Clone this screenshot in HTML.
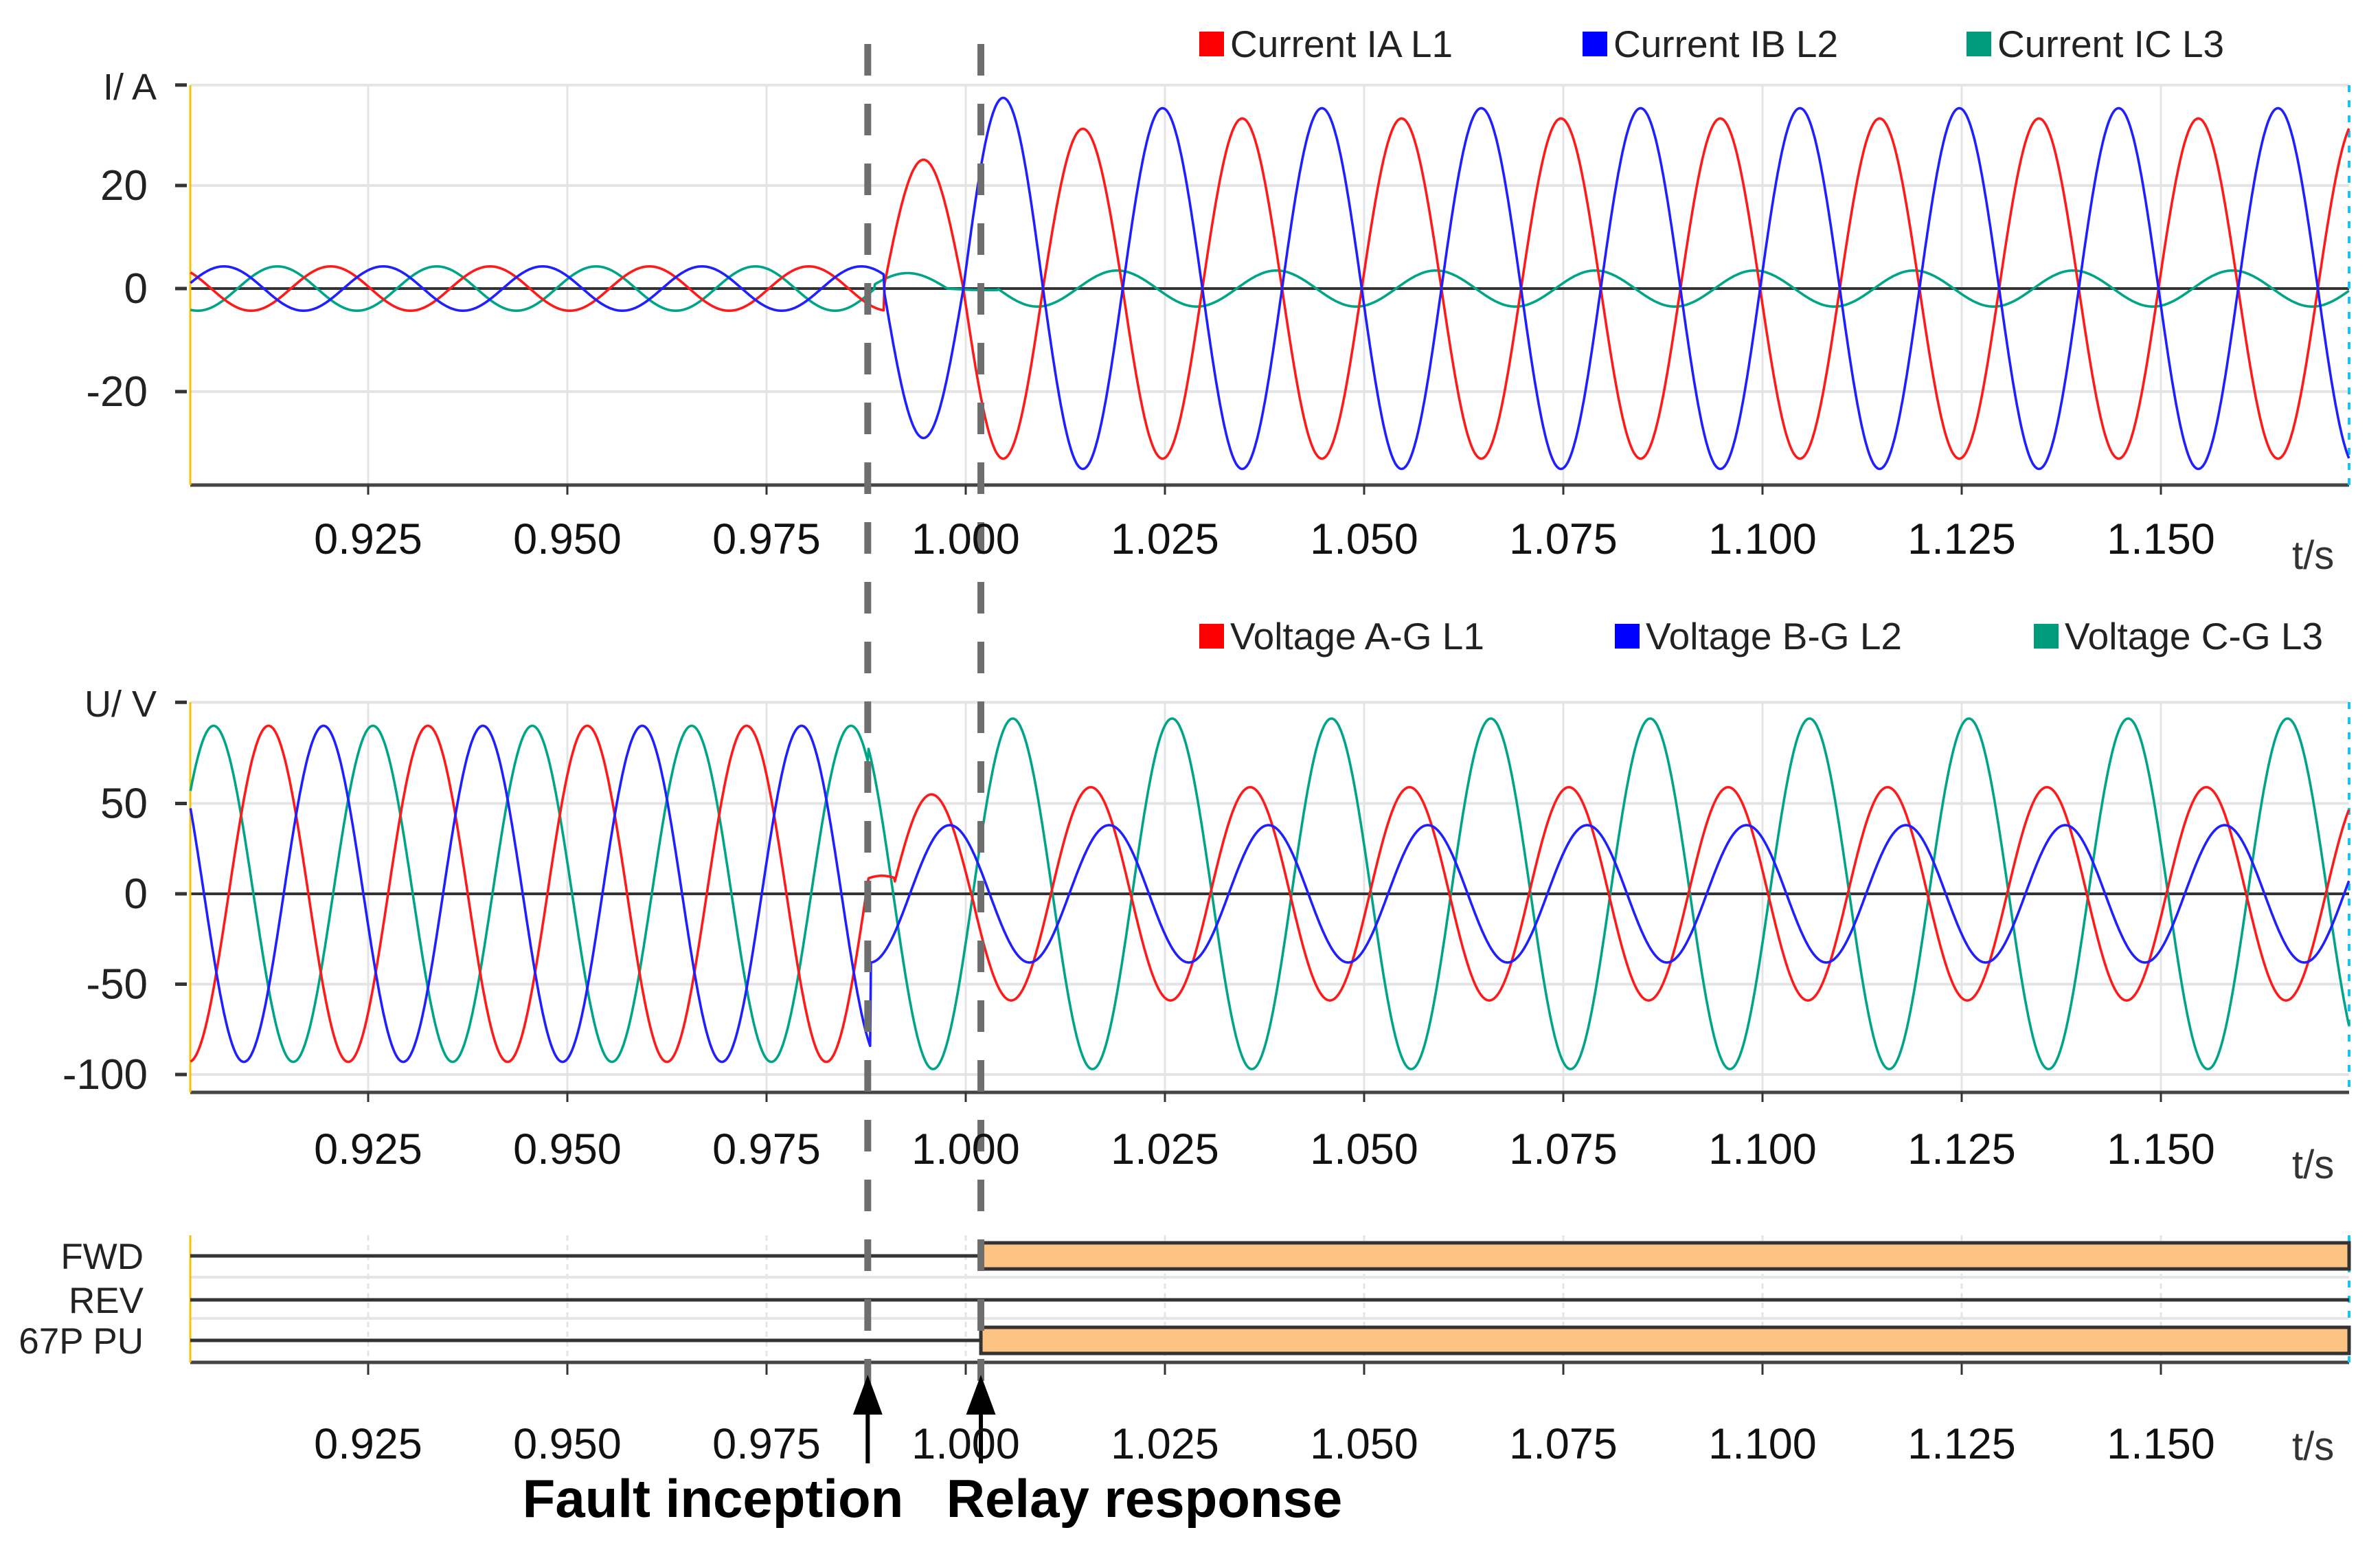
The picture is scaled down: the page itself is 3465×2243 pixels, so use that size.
<!DOCTYPE html>
<html><head><meta charset="utf-8">
<style>
html,body{margin:0;padding:0;background:#fff;}
svg{display:block;font-family:"Liberation Sans Narrow","Liberation Sans",sans-serif;}
</style></head>
<body>
<svg id="chart" width="3465" height="2243" viewBox="0 0 3465 2243" xmlns="http://www.w3.org/2000/svg">
<g id="grid"></g>
<g id="axes"></g>
<g id="series"></g>
<g id="status"></g>
<g id="overlay"></g>
<g id="labels"></g>
</svg>
<script>
// ---- data ----
var xTicks = [0.925, 0.950, 0.975, 1.000, 1.025, 1.050, 1.075, 1.100, 1.125, 1.150];
var xTickLabels = ["0.925","0.950","0.975","1.000","1.025","1.050","1.075","1.100","1.125","1.150"];
var tStart = 0.9027, tEnd = 1.1736;
var currentTicks = [20, 0, -20];
var currentTickLabels = ["20","0","-20"];
var voltageTicks = [50, 0, -50, -100];
var voltageTickLabels = ["50","0","-50","-100"];
var faultTime = 0.9877, relayTime = 1.0019;
// current waveform segments: start time, peak amplitude, time of a positive peak (50 Hz)
var iaStart = [0.90, 0.9897, 0.9997, 1.0097, 1.0197];
var iaAmp   = [4.3, 25, 33, 31, 33];
var iaPeak  = [0.9203, 0.9947, 0.9947, 0.9947, 0.9947];
var ibStart = [0.90, 0.9897, 0.9997, 1.0097];
var ibAmp   = [4.3, 29, 37, 35];
var ibPeak  = [0.9069, 1.0047, 1.0047, 1.0047];
var icStart = [0.90, 0.9885, 0.9977, 1.004];
var icAmp   = [4.3, 3, 0.3, 3.5];
var icPeak  = [0.9136, 0.9927, 0.9927, 1.019];
// voltage waveform segments
var vaStart = [0.90, 0.9877, 0.991, 1.001];
var vaAmp   = [93, 10, 55, 59];
var vaPeak  = [0.9125, 0.9895, 0.9957, 0.9957];
var vbStart = [0.90, 0.9880];
var vbAmp   = [93, 38];
var vbPeak  = [0.9194, 0.998];
var vcStart = [0.90, 0.9877];
var vcAmp   = [93, 97];
var vcPeak  = [0.9056, 0.9859];
var statusNames = ["FWD","REV","67P PU"];
var statusOn = [1.0019, null, 1.0019];
var currentLegend = ["Current IA L1","Current IB L2","Current IC L3"];
var voltageLegend = ["Voltage A-G L1","Voltage B-G L2","Voltage C-G L3"];

// ---- layout ----
var NS = "http://www.w3.org/2000/svg";
var X0 = 277, X1 = 3420;
function xs(t){ return 536 + (t - 0.925) * 11600; }
function yI(v){ return 420 - v * 7.5; }
function yU(v){ return 1301 - v * 2.63; }
var statusY = [1828, 1892, 1951];
var colors = ["#ff1a1a", "#1f1fff", "#00a587"];
var legendColors = ["#ff0000", "#0000ff", "#009a7c"];

function mk(tag, attrs, parent, text){
  var e = document.createElementNS(NS, tag);
  for (var k in attrs) e.setAttribute(k, attrs[k]);
  if (text !== undefined) e.textContent = text;
  parent.appendChild(e);
  return e;
}
var G = document.getElementById('grid'), A = document.getElementById('axes'),
    S = document.getElementById('series'), ST = document.getElementById('status'),
    O = document.getElementById('overlay'), L = document.getElementById('labels');

function segVal(t, st, am, pk){
  var i = 0;
  for (var k = 0; k < st.length; k++) if (t >= st[k]) i = k;
  return am[i] * Math.cos(2 * Math.PI * 50 * (t - pk[i]));
}

function panel(top, bottom, yf, ticks, tickLabels, unit, topVal, tickLabelY, tsY, prefix){
  var hg = [topVal].concat(ticks);
  hg.forEach(function(v){
    if (v === 0) return;
    var l = mk('line', {x1:X0, x2:X1, y1:yf(v), y2:yf(v), stroke:'#e4e4e4', 'stroke-width':4}, G);
    
    
  });
  xTicks.forEach(function(t){
    var l = mk('line', {x1:xs(t), x2:xs(t), y1:top, y2:bottom, stroke:'#e4e4e4', 'stroke-width':3}, G);
    
    
  });
  var za = mk('line', {x1:X0, x2:X1, y1:yf(0), y2:yf(0), stroke:'#333', 'stroke-width':4}, A);
  
  
  var xa = mk('line', {x1:X0, x2:X1, y1:bottom, y2:bottom, stroke:'#444', 'stroke-width':5}, A);
  
  
  var ya = mk('line', {x1:X0, x2:X0, y1:top, y2:bottom, stroke:'#f5c400', 'stroke-width':3}, A);
  
  
  var cy = mk('line', {x1:X1, x2:X1, y1:top, y2:bottom, stroke:'#19c3f0', 'stroke-width':4, 'stroke-dasharray':'10 12'}, A);
  
  
  xTicks.forEach(function(t, i){
    var tk = mk('line', {x1:xs(t), x2:xs(t), y1:bottom, y2:bottom+14, stroke:'#333', 'stroke-width':3}, A);
    
    
    var tx = mk('text', {x:xs(t), y:tickLabelY, 'font-size':63, 'text-anchor':'middle', fill:'#111'}, L, xTickLabels[i]);
    
    
  });
  var ts = mk('text', {x:3337, y:tsY, 'font-size':58, fill:'#333'}, L, 't/s');
  
  
  var all = [topVal].concat(ticks), labs = [unit].concat(tickLabels);
  all.forEach(function(v, i){
    var tk = mk('line', {x1:255, x2:272, y1:yf(v), y2:yf(v), stroke:'#333', 'stroke-width':5}, A);
    
    
    var tx = mk('text', {x:i===0?228:215, y:yf(v)+21, 'font-size':i===0?54:62, 'text-anchor':'end', fill:'#222'}, L, labs[i]);
    
    
  });
}

panel(124, 706, yI, currentTicks, currentTickLabels, "I/ A", 39.5, 806, 828, 'current');
panel(1022, 1590, yU, voltageTicks, voltageTickLabels, "U/ V", 106, 1694, 1715, 'voltage');

function drawSeries(st, am, pk, yf, color, name){
  var pts = [];
  for (var t = tStart; t <= tEnd + 1e-9; t += 0.0001) {
    pts.push(xs(t).toFixed(1) + ',' + yf(segVal(t, st, am, pk)).toFixed(1));
  }
  var p = mk('polyline', {points:pts.join(' '), fill:'none', stroke:color, 'stroke-width':3.6, 'stroke-linejoin':'round'}, S);
  
  
}
drawSeries(icStart, icAmp, icPeak, yI, colors[2], 'current-ic-line');
drawSeries(iaStart, iaAmp, iaPeak, yI, colors[0], 'current-ia-line');
drawSeries(ibStart, ibAmp, ibPeak, yI, colors[1], 'current-ib-line');
drawSeries(vcStart, vcAmp, vcPeak, yU, colors[2], 'voltage-c-line');
drawSeries(vaStart, vaAmp, vaPeak, yU, colors[0], 'voltage-a-line');
drawSeries(vbStart, vbAmp, vbPeak, yU, colors[1], 'voltage-b-line');

function legend(items, xsq, y, prefix){
  items.forEach(function(txt, i){
    var r = mk('rect', {x:xsq[i], y:y-18, width:36, height:36, fill:legendColors[i]}, L);
    
    
    var tx = mk('text', {x:xsq[i]+45, y:y+19, 'font-size':55, fill:'#222'}, L, txt);
    
    
  });
}
legend(currentLegend, [1746, 2304, 2863], 64, 'current');
legend(voltageLegend, [1746, 2351, 2961], 926, 'voltage');

var sTop = 1798, sBot = 1983;
[1859, 1919].forEach(function(y){
  var l = mk('line', {x1:X0, x2:X1, y1:y, y2:y, stroke:'#e6e6e6', 'stroke-width':4}, G);
  
  
});
xTicks.forEach(function(t, i){
  var l = mk('line', {x1:xs(t), x2:xs(t), y1:sTop, y2:sBot, stroke:'#e6e6e6', 'stroke-width':3, 'stroke-dasharray':'8 6'}, G);
  
  
  var tk = mk('line', {x1:xs(t), x2:xs(t), y1:sBot, y2:sBot+18, stroke:'#333', 'stroke-width':3}, A);
  
  
  var tx = mk('text', {x:xs(t), y:2123, 'font-size':63, 'text-anchor':'middle', fill:'#111'}, L, xTickLabels[i]);
  
  
});
var sx = mk('line', {x1:X0, x2:X1, y1:sBot, y2:sBot, stroke:'#444', 'stroke-width':5}, A);


var sy = mk('line', {x1:X0, x2:X0, y1:sTop, y2:sBot, stroke:'#f5c400', 'stroke-width':3}, A);


var sc = mk('line', {x1:X1, x2:X1, y1:sTop, y2:sBot, stroke:'#19c3f0', 'stroke-width':4, 'stroke-dasharray':'10 12'}, A);


var stx = mk('text', {x:3337, y:2125, 'font-size':58, fill:'#333'}, L, 't/s');


statusNames.forEach(function(n, i){
  var y = statusY[i];
  var tx = mk('text', {x:209, y:y+19, 'font-size':53, 'text-anchor':'end', fill:'#222', 'font-family':'Liberation Sans, sans-serif'}, L, n);
  
  
  var end = statusOn[i] === null ? X1 : xs(statusOn[i]);
  var l = mk('line', {x1:X0, x2:end, y1:y, y2:y, stroke:'#333', 'stroke-width':5}, ST);
  
  
  if (statusOn[i] !== null) {
    var b = mk('rect', {x:xs(statusOn[i]), y:y-19, width:X1-xs(statusOn[i]), height:38, fill:'#fdc382', stroke:'#333', 'stroke-width':5}, ST);
    
    
  }
});

[[faultTime, 2032], [relayTime, 2010]].forEach(function(d, i){
  var l = mk('line', {x1:xs(d[0]), x2:xs(d[0]), y1:64, y2:d[1], stroke:'#6e6e6e', 'stroke-width':10, 'stroke-dasharray':'46 41'}, O);
  
  
});
[faultTime, relayTime].forEach(function(t, i){
  var x = xs(t);
  var s = mk('line', {x1:x, x2:x, y1:2040, y2:2130, stroke:'#000', 'stroke-width':6}, O);
  
  
  var h = mk('polygon', {points:(x-20)+',2058 '+x+',2004 '+(x+20)+',2058', fill:'#000', stroke:'#000', 'stroke-width':2}, O);
  
  
});
var f1 = mk('text', {x:1038, y:2208, 'font-size':78, 'font-weight':'bold', 'text-anchor':'middle', fill:'#000', 'font-family':'Liberation Sans, sans-serif'}, L, 'Fault inception');


var f2 = mk('text', {x:1666, y:2208, 'font-size':78, 'font-weight':'bold', 'text-anchor':'middle', fill:'#000', 'font-family':'Liberation Sans, sans-serif'}, L, 'Relay response');


</script>
</body></html>
